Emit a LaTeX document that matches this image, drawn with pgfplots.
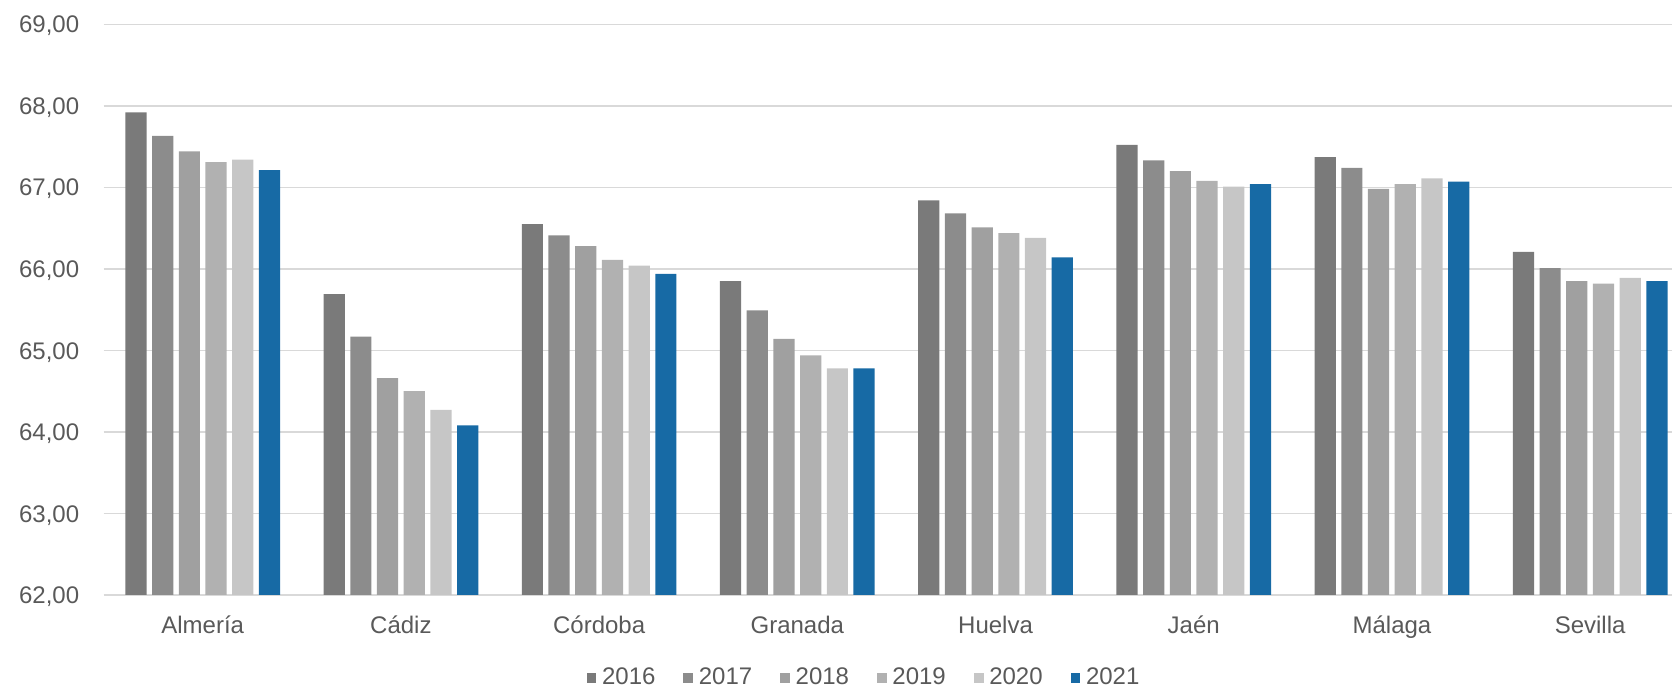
\documentclass[border=0pt]{standalone}
\usepackage{pgfplots}
\usepackage{pgfplotstable}
\pgfplotsset{compat=1.18}
\usepackage{fontspec}
\setmainfont{Liberation Sans}
\definecolor{c16}{HTML}{7A7A7A}
\definecolor{c17}{HTML}{8C8C8C}
\definecolor{c18}{HTML}{A0A0A0}
\definecolor{c19}{HTML}{B1B1B1}
\definecolor{c20}{HTML}{C6C6C6}
\definecolor{c21}{HTML}{176AA5}
\definecolor{txt}{HTML}{595959}
\definecolor{gridc}{HTML}{D9D9D9}
\pgfplotstableread{
x a16 a17 a18 a19 a20 a21
0 67.92 67.63 67.44 67.31 67.34 67.21
1 65.69 65.17 64.66 64.50 64.27 64.08
2 66.55 66.41 66.28 66.11 66.04 65.94
3 65.85 65.49 65.14 64.94 64.78 64.78
4 66.84 66.68 66.51 66.44 66.38 66.14
5 67.52 67.33 67.20 67.08 67.01 67.04
6 67.37 67.24 66.98 67.04 67.11 67.07
7 66.21 66.01 65.85 65.82 65.89 65.85
}\datatable
\begin{document}
\begin{tikzpicture}
\begin{axis}[
  at={(0,0)}, anchor=south west,
  scale only axis, width=784.2pt, height=285.35pt,
  xmin=-0.5, xmax=7.413, ymin=62, ymax=69,
  ybar=2.75pt, bar width=10.6pt,
  axis line style={draw=none},
  xtick={0,...,7}, ytick={62,...,69},
  xticklabels={Almería, Cádiz, Córdoba, Granada, Huelva, Jaén, Málaga, Sevilla},
  major tick length=0pt,
  ymajorgrids, grid style={color=gridc, line width=0.75pt},
  /pgf/number format/fixed, /pgf/number format/fixed zerofill,
  /pgf/number format/precision=2, /pgf/number format/use comma,
  /pgf/number format/assume math mode=true,
  ticklabel style={font=\fontsize{12}{14}\selectfont, text=txt},
  yticklabel style={anchor=base east, inner sep=0pt, xshift=-12pt, yshift=-4.3pt},
  xticklabel style={anchor=base, inner sep=0pt, yshift=-19.5pt},
  legend columns=6,
  legend style={draw=none, fill=none, at={(0.4855,-0.1454)}, anchor=center,
    font=\fontsize{12}{14}\selectfont, text=txt, inner sep=0pt,
    /tikz/every odd column/.append style={column sep=0.8pt},
    /tikz/every even column/.append style={column sep=12pt}},
  legend image code/.code={\fill[#1] (0pt,-2.45pt) rectangle (4.9pt,2.45pt);},
]
\addplot[fill=c16, draw=none] table[x=x, y=a16] {\datatable};
\addplot[fill=c17, draw=none] table[x=x, y=a17] {\datatable};
\addplot[fill=c18, draw=none] table[x=x, y=a18] {\datatable};
\addplot[fill=c19, draw=none] table[x=x, y=a19] {\datatable};
\addplot[fill=c20, draw=none] table[x=x, y=a20] {\datatable};
\addplot[fill=c21, draw=none] table[x=x, y=a21] {\datatable};
\legend{2016,2017,2018,2019,2020,2021}
\end{axis}
\pgfresetboundingbox
\path (-51.8pt,-47.5pt) rectangle (784.2pt,297.5pt);
\end{tikzpicture}
\end{document}
